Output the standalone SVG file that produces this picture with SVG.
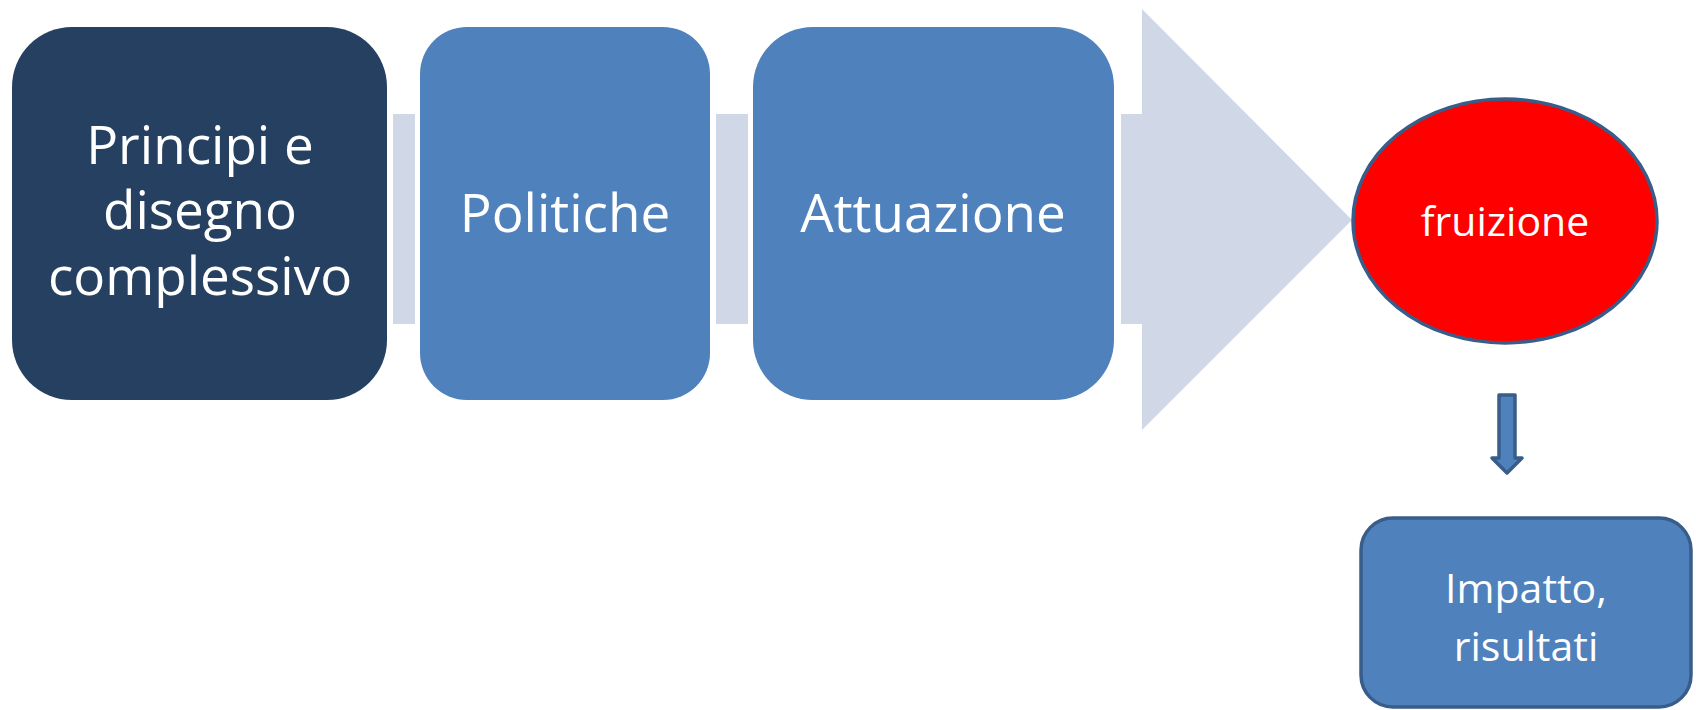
<svg xmlns="http://www.w3.org/2000/svg" width="1696" height="710" viewBox="0 0 1696 710">
<style>
.t{font-family:"Open Sans","Liberation Sans",sans-serif;fill:#ffffff;text-anchor:middle}
.big{font-size:53px}
.small{font-size:41px}
.conn{fill:#D0D8E8}
.box{fill:#4F81BD}
.outl{stroke:#385D8A;stroke-width:3.5}
</style>
<rect width="1696" height="710" fill="#ffffff"/>
<g id="connectors">
<rect class="conn" x="393" y="114" width="22" height="210"/>
<rect class="conn" x="716" y="114" width="32" height="210"/>
<polygon class="conn" points="1121,114 1142,114 1142,9 1352,220 1142,430 1142,324 1121,324"/>
<polygon class="box outl" stroke-linejoin="round" points="1499,395 1515,395 1515,458 1522,458 1507,473 1492,458 1499,458"/>
</g>
<g id="node-principi">
<rect x="12" y="27" width="375" height="373" rx="60" ry="60" fill="#264061"/>
<text class="t big"><tspan x="200" y="164">Principi e</tspan><tspan x="200" y="229">disegno</tspan><tspan x="200" y="295">complessivo</tspan></text>
</g>
<g id="node-politiche">
<rect class="box" x="420" y="27" width="290" height="373" rx="47" ry="47"/>
<text class="t big" x="565" y="232">Politiche</text>
</g>
<g id="node-attuazione">
<rect class="box" x="753" y="27" width="361" height="373" rx="60" ry="60"/>
<text class="t big" x="933" y="232">Attuazione</text>
</g>
<g id="node-fruizione">
<ellipse cx="1505" cy="221" rx="152" ry="122" fill="#FF0000" stroke="#385D8A" stroke-width="3.5"/>
<text class="t small" x="1505" y="236">fruizione</text>
</g>
<g id="node-impatto">
<rect class="box outl" x="1361" y="518" width="330" height="189" rx="32" ry="32"/>
<text class="t small"><tspan x="1526" y="603">Impatto,</tspan><tspan x="1526" y="661">risultati</tspan></text>
</g>
</svg>
